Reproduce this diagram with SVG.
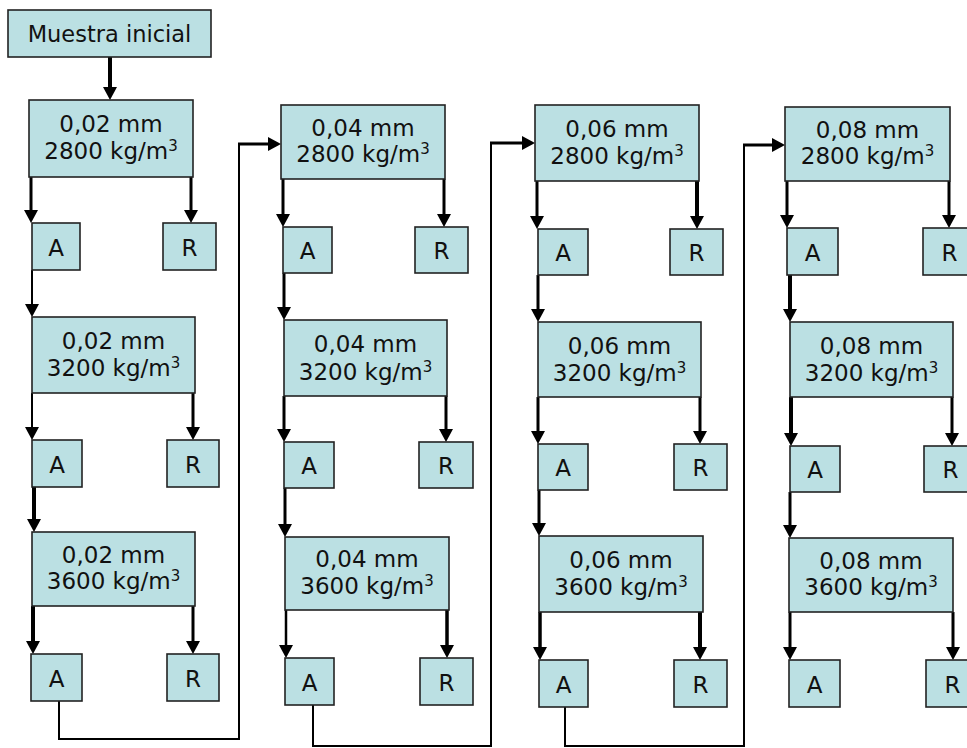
<svg xmlns="http://www.w3.org/2000/svg" width="967" height="748" viewBox="0 0 967 748">
<style>
.bx{fill:#BBE0E3;stroke:#222;stroke-width:1.6}
.t{font-family:"DejaVu Sans",sans-serif;font-size:23px;text-anchor:middle;fill:#111}
.m{font-family:"DejaVu Sans",sans-serif;font-size:22.5px;text-anchor:middle;fill:#111}
.c{fill:none;stroke:#000}
.sup{font-size:15px}
</style>
<defs>
<marker id="ah" viewBox="0 -7 13 14" refX="3" refY="0" markerWidth="13" markerHeight="14" markerUnits="userSpaceOnUse" orient="auto"><path d="M0,-7 L13,0 L0,7 z" fill="#000"/></marker>
</defs>
<rect width="967" height="748" fill="#fff"/>
<g id="connectors">
<path class="c" stroke-width="4" marker-end="url(#ah)" d="M110,57 V90"/>
<path class="c" stroke-width="3" marker-end="url(#ah)" d="M31,177 V213"/>
<path class="c" stroke-width="3" marker-end="url(#ah)" d="M191,177 V213"/>
<path class="c" stroke-width="2" marker-end="url(#ah)" d="M32,270 V307"/>
<path class="c" stroke-width="2" marker-end="url(#ah)" d="M32,393 V430"/>
<path class="c" stroke-width="3" marker-end="url(#ah)" d="M193,393 V430"/>
<path class="c" stroke-width="4" marker-end="url(#ah)" d="M34,487 V522"/>
<path class="c" stroke-width="4" marker-end="url(#ah)" d="M33,606 V644"/>
<path class="c" stroke-width="3" marker-end="url(#ah)" d="M193,606 V644"/>
<path class="c" stroke-width="2" d="M59,701 V739 H239 V144"/>
<path class="c" stroke-width="3" marker-end="url(#ah)" d="M238,144 H271"/>
<path class="c" stroke-width="3" marker-end="url(#ah)" d="M283,179 V217"/>
<path class="c" stroke-width="3" marker-end="url(#ah)" d="M444,179 V217"/>
<path class="c" stroke-width="3" marker-end="url(#ah)" d="M284,273 V310"/>
<path class="c" stroke-width="3" marker-end="url(#ah)" d="M284,396 V432"/>
<path class="c" stroke-width="3" marker-end="url(#ah)" d="M446,396 V432"/>
<path class="c" stroke-width="3" marker-end="url(#ah)" d="M285,488 V527"/>
<path class="c" stroke-width="2.5" marker-end="url(#ah)" d="M286,610 V648"/>
<path class="c" stroke-width="3.5" marker-end="url(#ah)" d="M447,610 V648"/>
<path class="c" stroke-width="2" d="M313,705 V746 H491 V143"/>
<path class="c" stroke-width="3" marker-end="url(#ah)" d="M490,143 H525"/>
<path class="c" stroke-width="3" marker-end="url(#ah)" d="M537,181 V219"/>
<path class="c" stroke-width="4" marker-end="url(#ah)" d="M697,181 V219"/>
<path class="c" stroke-width="3" marker-end="url(#ah)" d="M538,275 V312"/>
<path class="c" stroke-width="3" marker-end="url(#ah)" d="M538,397 V434"/>
<path class="c" stroke-width="3" marker-end="url(#ah)" d="M700,397 V434"/>
<path class="c" stroke-width="3" marker-end="url(#ah)" d="M539,490 V526"/>
<path class="c" stroke-width="3.5" marker-end="url(#ah)" d="M540,612 V650"/>
<path class="c" stroke-width="4" marker-end="url(#ah)" d="M700,612 V650"/>
<path class="c" stroke-width="2" d="M565,707 V746 H744 V145"/>
<path class="c" stroke-width="3" marker-end="url(#ah)" d="M743,145 H775"/>
<path class="c" stroke-width="3" marker-end="url(#ah)" d="M787,181 V218"/>
<path class="c" stroke-width="3" marker-end="url(#ah)" d="M949,181 V218"/>
<path class="c" stroke-width="4" marker-end="url(#ah)" d="M790,275 V312"/>
<path class="c" stroke-width="4" marker-end="url(#ah)" d="M791,397 V436"/>
<path class="c" stroke-width="3" marker-end="url(#ah)" d="M952,397 V436"/>
<path class="c" stroke-width="3" marker-end="url(#ah)" d="M790,492 V528"/>
<path class="c" stroke-width="3" marker-end="url(#ah)" d="M790,612 V650"/>
<path class="c" stroke-width="3" marker-end="url(#ah)" d="M953,612 V650"/>
</g>
<g id="start"><rect class="bx" x="8" y="10" width="203" height="47"/><text class="m" x="109.5" y="42">Muestra inicial</text></g>

<g id="c1b1"><rect class="bx" x="29" y="100" width="164" height="77"/><text class="t" x="111" y="132">0,02 mm</text><text class="t" x="111" y="159">2800 kg/m<tspan class="sup" dy="-8">3</tspan></text></g>
<g id="c1a1"><rect class="bx" x="32" y="223" width="48" height="47"/><text class="t" x="56" y="256">A</text></g>
<g id="c1r1"><rect class="bx" x="163" y="223" width="53" height="47"/><text class="t" x="189.5" y="256">R</text></g>
<g id="c1b2"><rect class="bx" x="32" y="317" width="163" height="76"/><text class="t" x="113.5" y="349">0,02 mm</text><text class="t" x="113.5" y="376">3200 kg/m<tspan class="sup" dy="-8">3</tspan></text></g>
<g id="c1a2"><rect class="bx" x="32" y="440" width="50" height="47"/><text class="t" x="57" y="473">A</text></g>
<g id="c1r2"><rect class="bx" x="167" y="440" width="52" height="47"/><text class="t" x="193" y="473">R</text></g>
<g id="c1b3"><rect class="bx" x="32" y="532" width="163" height="74"/><text class="t" x="113.5" y="563">0,02 mm</text><text class="t" x="113.5" y="589">3600 kg/m<tspan class="sup" dy="-8">3</tspan></text></g>
<g id="c1a3"><rect class="bx" x="31" y="654" width="51" height="47"/><text class="t" x="56.5" y="687">A</text></g>
<g id="c1r3"><rect class="bx" x="167" y="654" width="52" height="47"/><text class="t" x="193" y="687">R</text></g>

<g id="c2b1"><rect class="bx" x="281" y="105" width="164" height="74"/><text class="t" x="363" y="136">0,04 mm</text><text class="t" x="363" y="162">2800 kg/m<tspan class="sup" dy="-8">3</tspan></text></g>
<g id="c2a1"><rect class="bx" x="283" y="227" width="49" height="46"/><text class="t" x="307.5" y="259">A</text></g>
<g id="c2r1"><rect class="bx" x="415" y="227" width="53" height="46"/><text class="t" x="441.5" y="259">R</text></g>
<g id="c2b2"><rect class="bx" x="284" y="320" width="163" height="76"/><text class="t" x="365.5" y="352">0,04 mm</text><text class="t" x="365.5" y="380">3200 kg/m<tspan class="sup" dy="-8">3</tspan></text></g>
<g id="c2a2"><rect class="bx" x="284" y="442" width="50" height="46"/><text class="t" x="309" y="474">A</text></g>
<g id="c2r2"><rect class="bx" x="419" y="442" width="54" height="46"/><text class="t" x="446" y="474">R</text></g>
<g id="c2b3"><rect class="bx" x="285" y="537" width="164" height="73"/><text class="t" x="367" y="567">0,04 mm</text><text class="t" x="367" y="594">3600 kg/m<tspan class="sup" dy="-8">3</tspan></text></g>
<g id="c2a3"><rect class="bx" x="285" y="658" width="49" height="47"/><text class="t" x="309.5" y="691">A</text></g>
<g id="c2r3"><rect class="bx" x="420" y="658" width="53" height="47"/><text class="t" x="446.5" y="691">R</text></g>

<g id="c3b1"><rect class="bx" x="535" y="105" width="164" height="76"/><text class="t" x="617" y="137">0,06 mm</text><text class="t" x="617" y="164">2800 kg/m<tspan class="sup" dy="-8">3</tspan></text></g>
<g id="c3a1"><rect class="bx" x="538" y="229" width="50" height="46"/><text class="t" x="563" y="261">A</text></g>
<g id="c3r1"><rect class="bx" x="670" y="229" width="53" height="46"/><text class="t" x="696.5" y="261">R</text></g>
<g id="c3b2"><rect class="bx" x="538" y="322" width="163" height="75"/><text class="t" x="619.5" y="354">0,06 mm</text><text class="t" x="619.5" y="381">3200 kg/m<tspan class="sup" dy="-8">3</tspan></text></g>
<g id="c3a2"><rect class="bx" x="538" y="444" width="50" height="46"/><text class="t" x="563" y="476">A</text></g>
<g id="c3r2"><rect class="bx" x="674" y="444" width="53" height="46"/><text class="t" x="700.5" y="476">R</text></g>
<g id="c3b3"><rect class="bx" x="539" y="536" width="164" height="76"/><text class="t" x="621" y="568">0,06 mm</text><text class="t" x="621" y="595">3600 kg/m<tspan class="sup" dy="-8">3</tspan></text></g>
<g id="c3a3"><rect class="bx" x="539" y="660" width="49" height="47"/><text class="t" x="563.5" y="693">A</text></g>
<g id="c3r3"><rect class="bx" x="674" y="660" width="53" height="47"/><text class="t" x="700.5" y="693">R</text></g>

<g id="c4b1"><rect class="bx" x="785" y="107" width="165" height="74"/><text class="t" x="867.5" y="138">0,08 mm</text><text class="t" x="867.5" y="164">2800 kg/m<tspan class="sup" dy="-8">3</tspan></text></g>
<g id="c4a1"><rect class="bx" x="787" y="228" width="51" height="47"/><text class="t" x="812.5" y="261">A</text></g>
<g id="c4r1"><rect class="bx" x="923" y="228" width="53" height="47"/><text class="t" x="949.5" y="261">R</text></g>
<g id="c4b2"><rect class="bx" x="790" y="322" width="163" height="75"/><text class="t" x="871.5" y="354">0,08 mm</text><text class="t" x="871.5" y="381">3200 kg/m<tspan class="sup" dy="-8">3</tspan></text></g>
<g id="c4a2"><rect class="bx" x="790" y="446" width="50" height="46"/><text class="t" x="815" y="478">A</text></g>
<g id="c4r2"><rect class="bx" x="924" y="446" width="53" height="46"/><text class="t" x="950.5" y="478">R</text></g>
<g id="c4b3"><rect class="bx" x="789" y="538" width="164" height="74"/><text class="t" x="871" y="569">0,08 mm</text><text class="t" x="871" y="595">3600 kg/m<tspan class="sup" dy="-8">3</tspan></text></g>
<g id="c4a3"><rect class="bx" x="789" y="660" width="51" height="47"/><text class="t" x="814.5" y="693">A</text></g>
<g id="c4r3"><rect class="bx" x="926" y="660" width="53" height="47"/><text class="t" x="952.5" y="693">R</text></g>
</svg>
